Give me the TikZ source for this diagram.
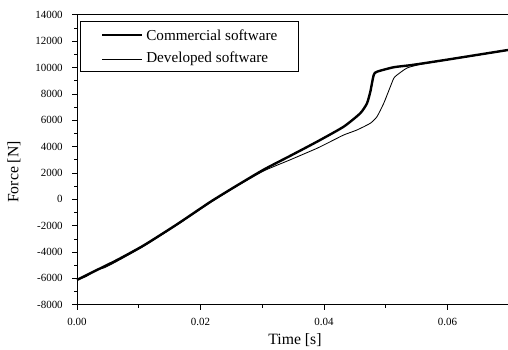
\documentclass[tikz,border=0pt]{standalone}
\usepackage{fontspec}
\setmainfont{Liberation Serif}
\usetikzlibrary{positioning}

\begin{document}
\begin{tikzpicture}[x=1.54375cm, y=0.3295cm,
    ticklab/.style={font=\fontsize{7.8}{9}\selectfont, inner sep=0pt},
    axlab/.style={font=\fontsize{11.2}{13}\selectfont, inner sep=0pt},
    leglab/.style={font=\fontsize{10.8}{12}\selectfont, inner sep=0pt},
    commercial/.style={line width=1.7pt, line join=round, smooth, tension=0.35},
    developed/.style={line width=0.6pt, line join=round, smooth, tension=0.35}]
  \useasboundingbox (-1.925cm,-3.7675cm) rectangle (10.775cm,4.9825cm);
  % frame
  \draw[line width=0.5pt] (7.2,14) -- (0,14) -- (0,-8) -- (7.2,-8);
  % y ticks
  \foreach \f in {-8,-6,...,14} {
    \pgfmathtruncatemacro\v{\f*1000}
    \draw (0,\f) -- ++(-0.13cm,0) node[ticklab, left=0.22cm] (ylab\v) {\v};
  }
  \foreach \f in {-7,-5,...,13}
    \draw (0,\f) -- ++(-0.07cm,0);
  % x ticks
  \foreach \t/\l in {0/0.00,2/0.02,4/0.04,6/0.06}
    \draw (\t,-8) -- ++(0,-0.12cm) node[ticklab, below=0.2cm] (xlab\t) {\l};
  \foreach \t in {1,3,5}
    \draw (\t,-8) -- ++(0,-0.07cm);
  \node[axlab] (xtitle) at (5.45cm,-3.5175cm) {Time [s]};
  \node[axlab, rotate=90] (ytitle) at (-1.575cm,0.6825cm) {Force [N]};
  % legend
  \draw[line width=0.4pt] (0.075cm,4.4575cm) rectangle (5.525cm,3.2075cm);
  \coordinate (com1) at (0.625cm,4.1075cm);
  \coordinate (com2) at (1.625cm,4.1075cm);
  \coordinate (dev1) at (0.625cm,3.5075cm);
  \coordinate (dev2) at (1.625cm,3.5075cm);
  \draw[line width=0.8pt] (com1) -- (com2);
  \draw[line width=0.5pt] (dev1) -- (dev2);
  \node[leglab, right=0.1cm of com2] (comtext) {Commercial software};
  \node[leglab, right=0.1cm of dev2] (devtext) {Developed software};
  % curves
  \draw[developed] plot coordinates {(0,-6.12) (0.15,-5.85) (0.30,-5.40)
    (0.45,-5.18) (0.648,-4.70) (1.080,-3.56) (1.619,-1.95) (2.158,-0.25)
    (2.591,1.00) (3.023,2.15) (3.454,3.00) (3.887,3.87) (4.102,4.37)
    (4.319,4.88) (4.534,5.26) (4.750,5.77) (4.858,6.27) (4.967,7.28)
    (5.074,8.54) (5.129,9.18) (5.182,9.43) (5.344,9.96) (5.555,10.23)
    (5.960,10.55) (6.98,11.30)};
  \draw[commercial] plot coordinates {(0,-6.12) (0.324,-5.36) (0.648,-4.61)
    (1.080,-3.50) (1.619,-1.90) (2.158,-0.20) (2.591,1.05) (3.023,2.25)
    (3.454,3.30) (3.887,4.37) (4.319,5.51) (4.588,6.53) (4.696,7.28)
    (4.750,8.16) (4.805,9.43) (4.858,9.68) (5.129,10.02) (5.425,10.19)
    (5.960,10.57) (6.98,11.33)};
\end{tikzpicture}
\end{document}
